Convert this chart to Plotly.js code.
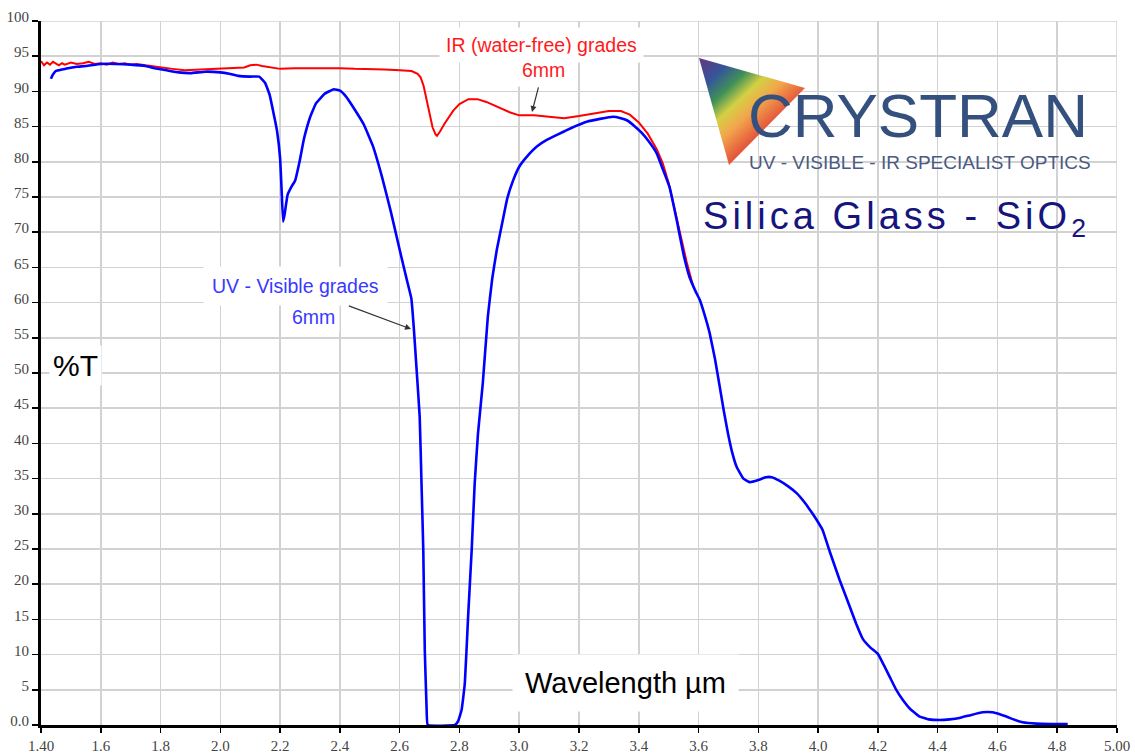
<!DOCTYPE html>
<html><head><meta charset="utf-8">
<script src="https://cdn.plot.ly/plotly-3.0.1.min.js"></script>
<style>html,body{margin:0;padding:0;background:#fff;}#chart{width:1135px;height:753px;}</style>
</head><body><div id="chart"></div>
<script>
// IR (water-free) grades, 6mm
const irWavelength = [1.40,1.41,1.42,1.43,1.44,1.45,1.46,1.47,1.48,1.50,1.52,1.54,1.56,1.58,1.60,1.62,1.64,1.66,1.68,1.70,1.72,1.75,1.78,1.80,1.84,1.88,1.92,1.96,2.00,2.04,2.08,2.10,2.12,2.14,2.17,2.20,2.25,2.30,2.35,2.40,2.45,2.50,2.55,2.60,2.64,2.66,2.67,2.68,2.69,2.70,2.71,2.72,2.725,2.735,2.75,2.78,2.80,2.83,2.86,2.89,2.93,2.97,3.00,3.05,3.10,3.15,3.20,3.25,3.30,3.34,3.37,3.40,3.43,3.46,3.48,3.50,3.53,3.56,3.58];
const irTransmission = [94.3,93.7,94.1,93.8,94.2,93.9,93.7,94.0,93.8,94.1,93.9,94.0,94.2,93.9,94.0,93.8,94.1,93.9,94.0,93.8,93.9,93.7,93.5,93.4,93.2,93.0,93.1,93.2,93.2,93.3,93.4,93.7,93.8,93.6,93.4,93.2,93.3,93.3,93.4,93.3,93.2,93.2,93.1,93.0,92.9,92.5,92.0,90.8,88.8,86.8,84.9,83.9,83.7,84.3,85.4,87.3,88.2,88.9,88.9,88.5,87.8,87.0,86.6,86.6,86.4,86.2,86.5,86.9,87.2,87.2,86.7,85.6,84.0,81.8,79.8,77.0,71.2,65.8,62.6];

// UV - Visible grades, 6mm
const uvWavelength = [1.433,1.44,1.45,1.47,1.49,1.52,1.55,1.60,1.65,1.70,1.75,1.78,1.82,1.86,1.90,1.95,2.00,2.03,2.06,2.10,2.13,2.15,2.165,2.18,2.19,2.20,2.205,2.21,2.215,2.225,2.24,2.25,2.265,2.28,2.30,2.32,2.35,2.38,2.40,2.42,2.45,2.48,2.51,2.54,2.57,2.60,2.623,2.639,2.647,2.656,2.667,2.673,2.679,2.684,2.690,2.694,2.785,2.795,2.807,2.818,2.829,2.841,2.851,2.862,2.878,2.895,2.91,2.925,2.945,2.96,2.98,3.00,3.025,3.06,3.092,3.13,3.159,3.19,3.226,3.27,3.313,3.34,3.36,3.385,3.41,3.435,3.46,3.48,3.503,3.527,3.55,3.57,3.59,3.604,3.62,3.637,3.655,3.671,3.685,3.698,3.712,3.728,3.75,3.771,3.80,3.825,3.845,3.87,3.90,3.929,3.955,3.98,4.00,4.015,4.04,4.072,4.106,4.128,4.15,4.175,4.20,4.22,4.24,4.26,4.283,4.31,4.34,4.37,4.407,4.44,4.473,4.51,4.55,4.583,4.61,4.63,4.66,4.684,4.73,4.78,4.835];
const uvTransmission = [91.8,92.4,92.9,93.1,93.3,93.5,93.6,93.9,93.9,93.8,93.6,93.3,93.0,92.7,92.6,92.8,92.7,92.5,92.2,92.1,92.1,91.2,89.5,86.5,84.3,80.5,76.0,71.5,72.5,75.3,76.6,77.3,80.0,83.3,86.3,88.3,89.7,90.3,90.1,89.3,87.4,85.3,82.3,78.0,73.0,67.5,63.4,60.6,56.6,50.9,43.8,34.4,24.9,10.7,2.5,0,0,0.5,2.1,5.9,15.4,24.9,34.3,41.4,48.5,58.0,63.5,67.5,71.7,74.8,77.4,79.3,80.7,82.2,83.1,83.9,84.5,85.1,85.7,86.1,86.4,86.2,85.9,85.1,84.1,82.8,81.2,79.0,76.4,71.7,66.8,63.6,61.6,60.4,58.3,55.7,52.0,48.0,44.5,41.5,38.8,36.6,35.0,34.5,34.8,35.2,35.2,34.7,33.9,32.9,31.6,30.1,28.8,27.7,24.5,20.6,16.8,14.3,12.2,11.0,10.1,8.5,6.8,5.1,3.6,2.2,1.2,0.8,0.7,0.8,1.0,1.4,1.8,1.8,1.5,1.2,0.7,0.4,0.2,0.15,0.15];

const xTickValues = [1.4,1.6,1.8,2.0,2.2,2.4,2.6,2.8,3.0,3.2,3.4,3.6,3.8,4.0,4.2,4.4,4.6,4.8,5.0];
const xTickLabels = ['1.40','1.6','1.8','2.0','2.2','2.4','2.6','2.8','3.0','3.2','3.4','3.6','3.8','4.0','4.2','4.4','4.6','4.8','5.00'];
const yTickValues = [0,5,10,15,20,25,30,35,40,45,50,55,60,65,70,75,80,85,90,95,100];
const yTickLabels = ['0.0','5','10','15','20','25','30','35','40','45','50','55','60','65','70','75','80','85','90','95','100'];

// pixel helpers (plot area 41..1117 x 21..725)
const PL=41, PR=1117, PT=21, PB=725;
const pxX = p => (p-PL)/(PR-PL);
const pxY = p => (PB-p)/(PB-PT);
const dataX = p => 1.4 + (p-PL)/(PR-PL)*3.6;
const dataY = p => (PB-p)/(PB-PT)*100;

const SANS = 'Liberation Sans, Arial, Helvetica, sans-serif';
const SERIF = 'Liberation Serif, Times New Roman, serif';

const traces = [
  {x: irWavelength, y: irTransmission, type:'scatter', mode:'lines', line:{color:'#ff0000', width:2}, hoverinfo:'skip'},
  {x: uvWavelength, y: uvTransmission, type:'scatter', mode:'lines', line:{color:'#0000ff', width:2.6, shape:'spline', smoothing:0.3}, hoverinfo:'skip'}
];

const triSvg = '<svg xmlns="http://www.w3.org/2000/svg" width="106" height="107" viewBox="0 0 106 107" preserveAspectRatio="none">' +
  '<defs><linearGradient id="g" gradientUnits="userSpaceOnUse" x1="4" y1="4" x2="66" y2="70">' +
  '<stop offset="0" stop-color="#5c3c86"/><stop offset="0.2" stop-color="#35559a"/><stop offset="0.4" stop-color="#3f9058"/>' +
  '<stop offset="0.58" stop-color="#d4d044"/><stop offset="0.76" stop-color="#f2a64c"/><stop offset="1" stop-color="#e4583c"/>' +
  '</linearGradient></defs><polygon points="0,0 106,30 30,107" fill="url(#g)"/></svg>';

function ann(text, x, y, opts){
  return Object.assign({text:text, xref:'paper', yref:'paper', x:pxX(x), y:pxY(y), xanchor:'center', yanchor:'middle', showarrow:false}, opts||{});
}
// annotation whose arrow points from the text to a point (px coords of head)
function arrowAnn(text, tx, ty, hx, hy, opts){
  return Object.assign({text:text, xref:'x', yref:'y', x:dataX(hx), y:dataY(hy), ax:tx-hx, ay:ty-hy,
    showarrow:true, arrowhead:2, arrowsize:1, arrowwidth:1.2, arrowcolor:'#333', standoff:0, startstandoff:1}, opts||{});
}

const annotations = [
  ann('CRYSTRAN', 918, 115, {font:{family:SANS, size:62, color:'#34507e'}}),
  ann('UV - VISIBLE - IR SPECIALIST OPTICS', 920, 162, {font:{family:SANS, size:19, color:'#4b5a82'}}),
  ann('Silica Glass - SiO<sub>2</sub>', 701, 219, {xanchor:'left', align:'left', font:{family:SANS, size:38, color:'#15157d'}}),
  ann('%T', 75, 365, {font:{family:SANS, size:30, color:'#000'}, bgcolor:'#fff', borderpad:3}),
  ann('Wavelength µm', 625.5, 683, {font:{family:SANS, size:29, color:'#000'}, bgcolor:'#fff', borderpad:12}),
  ann('IR (water-free) grades', 541, 45, {font:{family:SANS, size:19.5, color:'#ff1a1a'}, bgcolor:'#fff', borderpad:6}),
  arrowAnn('6mm', 543, 70, 532, 112, {font:{family:SANS, size:19.5, color:'#ff1a1a'}, bgcolor:'#fff', borderpad:5}),
  arrowAnn('UV - Visible grades', 295.5, 286, 411, 329, {font:{family:SANS, size:19.5, color:'#3a3aff'}, bgcolor:'#fff', borderpad:8}),
  ann('6mm', 313, 317, {font:{family:SANS, size:19.5, color:'#3a3aff'}, bgcolor:'#fff', borderpad:4})
];

const shapes = [
  {type:'line', xref:'x', yref:'paper', x0:5.0, x1:5.0, y0:0, y1:1, line:{color:'#d2d2d2', width:1.5}, layer:'below'},
  {type:'line', xref:'paper', yref:'y', x0:0, x1:1, y0:100, y1:100, line:{color:'#d2d2d2', width:1.5}, layer:'below'},
  {type:'rect', xref:'paper', yref:'paper', x0:pxX(688), x1:pxX(1100), y0:pxY(250), y1:pxY(48), fillcolor:'#ffffff', line:{width:0}, layer:'between'}
];

const layout = {
  width:1135, height:753,
  margin:{l:41, r:18, t:21, b:28, pad:0},
  paper_bgcolor:'#ffffff', plot_bgcolor:'#ffffff',
  showlegend:false,
  xaxis:{range:[1.4,5.0], tickmode:'array', tickvals:xTickValues, ticktext:xTickLabels,
    showgrid:true, gridcolor:'#d2d2d2', gridwidth:1.5, zeroline:false,
    showline:true, linecolor:'#000', linewidth:3, ticks:'outside', ticklen:5, tickwidth:1.5, tickcolor:'#000',
    tickfont:{family:SERIF, size:15, color:'#444'}, fixedrange:true},
  yaxis:{range:[0,100], tickmode:'array', tickvals:yTickValues, ticktext:yTickLabels,
    showgrid:true, gridcolor:'#d2d2d2', gridwidth:1.5, zeroline:false,
    showline:true, linecolor:'#000', linewidth:3, ticks:'outside', ticklen:6, tickwidth:1.5, tickcolor:'#000',
    tickfont:{family:SERIF, size:15, color:'#444'}, ticklabelshift:-4, fixedrange:true},
  shapes:shapes,
  annotations:annotations,
  images:[{source:'data:image/svg+xml;charset=utf-8,'+encodeURIComponent(triSvg), xref:'paper', yref:'paper',
    x:pxX(699), y:pxY(58), sizex:106/(PR-PL), sizey:107/(PB-PT), xanchor:'left', yanchor:'top', sizing:'stretch', layer:'above'}]
};

Plotly.newPlot('chart', traces, layout, {displayModeBar:false, staticPlot:true}).then(function(gd){
  // the reference title is set with wide letter spacing; spread it to span the same width
  var texts = gd.querySelectorAll('text.annotation-text');
  texts.forEach(function(t){
    var s = t.textContent || '';
    if (s.indexOf('Silica') === 0) {
      var b0 = t.getBBox();
      var sp = Math.max(0, (1097 - 702 - b0.width) / s.length);
      t.style.letterSpacing = sp.toFixed(2) + 'px';
      var b1 = t.getBBox();
      var dx = b0.x - b1.x;
      if (Math.abs(dx) > 0.5) t.setAttribute('transform', 'translate(' + dx.toFixed(2) + ',0)');
    }
  });
});
</script></body></html>
